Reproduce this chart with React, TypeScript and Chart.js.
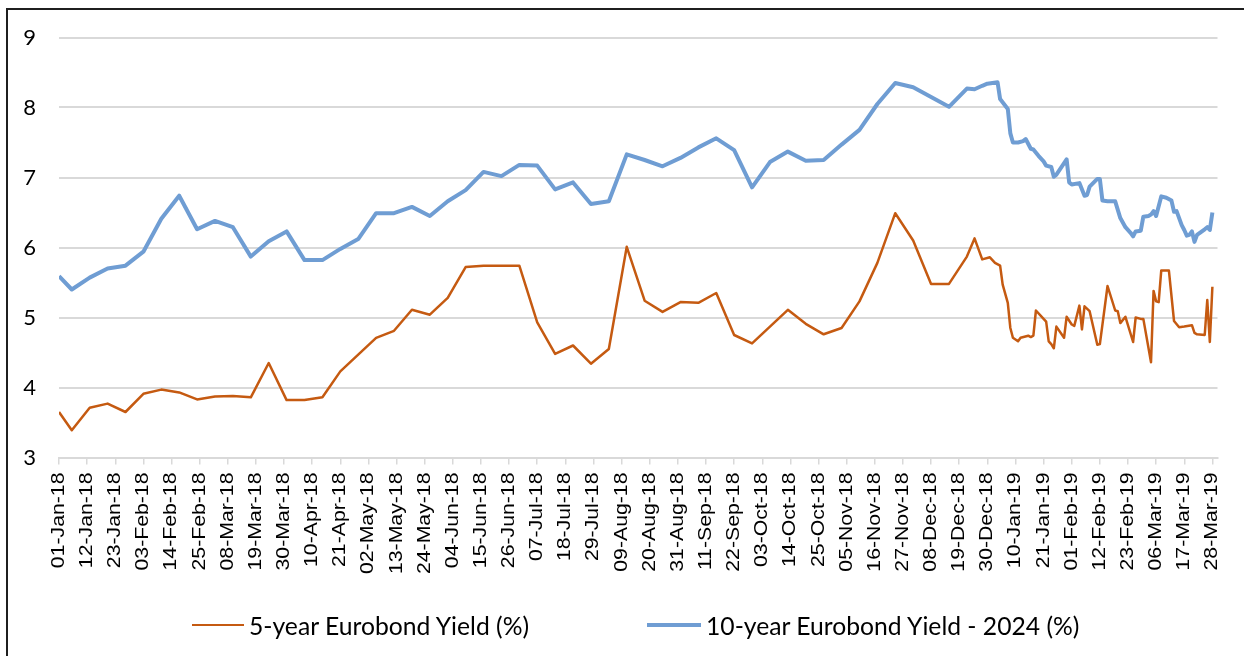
import React, { useEffect, useRef } from 'react';
import { Chart, registerables, LinearScale } from 'chart.js';

Chart.register(...registerables);

// ---- Data (x = days since 01-Jan-18) ----
const FIVE_LABEL = '5-year Eurobond Yield (%)';
const TEN_LABEL = '10-year Eurobond Yield - 2024 (%)';

const fiveYearDays = [
  0, 5, 12, 19, 26, 33, 40, 47, 54, 61, 68, 75, 82, 89, 96, 103, 110, 117, 124, 131,
  138, 145, 152, 159, 166, 173, 180, 187, 194, 201, 208, 215, 222, 229, 236, 243, 250, 257, 264, 271,
  278, 285, 292, 299, 306, 313, 320, 327, 334, 341, 348, 355, 358, 361, 364, 366, 368, 369, 371, 372,
  373, 375, 376, 379, 380, 381, 382, 385, 386, 387, 388, 389, 390, 393, 394, 396, 397, 399, 400, 401,
  403, 406, 407, 410, 413, 414, 415, 417, 420, 421, 423, 424, 427, 428, 429, 430, 431, 434, 436, 438,
  440, 443, 444, 445, 448, 449, 450, 451,
];
const fiveYearYield = [
  3.65, 3.39, 3.71, 3.77, 3.65, 3.91, 3.97, 3.93, 3.83, 3.87, 3.88, 3.86, 4.35, 3.82, 3.82, 3.86, 4.23, 4.47, 4.71, 4.81,
  5.11, 5.04, 5.28, 5.72, 5.74, 5.74, 5.74, 4.93, 4.48, 4.60, 4.34, 4.55, 6.01, 5.24, 5.08, 5.22, 5.21, 5.35, 4.75, 4.63,
  4.87, 5.11, 4.91, 4.76, 4.85, 5.23, 5.78, 6.49, 6.10, 5.48, 5.48, 5.87, 6.13, 5.83, 5.86, 5.78, 5.74, 5.47, 5.21, 4.85,
  4.71, 4.66, 4.71, 4.74, 4.72, 4.74, 5.10, 4.98, 4.94, 4.66, 4.62, 4.56, 4.87, 4.71, 5.01, 4.90, 4.88, 5.17, 4.83, 5.16,
  5.09, 4.61, 4.62, 5.45, 5.10, 5.09, 4.92, 5.01, 4.65, 5.00, 4.98, 4.98, 4.36, 5.38, 5.23, 5.22, 5.67, 5.67, 4.95, 4.86,
  4.87, 4.89, 4.78, 4.76, 4.75, 5.25, 4.65, 5.44,
];

const tenYearDays = [
  0, 5, 12, 19, 26, 33, 40, 47, 54, 61, 68, 75, 82, 89, 96, 103, 110, 117, 124, 131,
  138, 145, 152, 159, 166, 173, 180, 187, 194, 201, 208, 215, 222, 229, 236, 243, 250, 257, 264, 271,
  278, 285, 292, 299, 306, 313, 320, 327, 334, 341, 348, 355, 358, 361, 363, 367, 368, 371, 372, 373,
  375, 377, 378, 380, 381, 383, 385, 386, 388, 389, 390, 394, 395, 396, 399, 401, 402, 403, 406, 407,
  408, 410, 413, 415, 417, 419, 420, 421, 423, 424, 426, 427, 428, 429, 431, 433, 435, 436, 437, 439,
  440, 441, 442, 443, 444, 445, 448, 449, 450, 451,
];
const tenYearYield = [
  5.59, 5.40, 5.57, 5.70, 5.74, 5.94, 6.41, 6.74, 6.26, 6.38, 6.29, 5.87, 6.09, 6.23, 5.82, 5.82, 5.98, 6.12, 6.49, 6.49,
  6.58, 6.45, 6.66, 6.82, 7.08, 7.02, 7.18, 7.17, 6.83, 6.93, 6.62, 6.66, 7.33, 7.25, 7.16, 7.28, 7.43, 7.56, 7.39, 6.86,
  7.22, 7.37, 7.24, 7.25, 7.47, 7.68, 8.05, 8.35, 8.29, 8.15, 8.01, 8.27, 8.26, 8.31, 8.34, 8.36, 8.12, 7.98, 7.63, 7.50,
  7.50, 7.52, 7.55, 7.41, 7.40, 7.31, 7.23, 7.17, 7.15, 7.01, 7.04, 7.26, 6.93, 6.90, 6.92, 6.74, 6.75, 6.87, 6.98, 6.98,
  6.67, 6.66, 6.66, 6.42, 6.29, 6.21, 6.16, 6.23, 6.24, 6.44, 6.45, 6.47, 6.52, 6.45, 6.73, 6.71, 6.67, 6.51, 6.52, 6.32,
  6.25, 6.17, 6.18, 6.23, 6.08, 6.18, 6.26, 6.29, 6.25, 6.50,
];

const xTickLabels = [
  '01-Jan-18', '12-Jan-18', '23-Jan-18', '03-Feb-18', '14-Feb-18', '25-Feb-18', '08-Mar-18',
  '19-Mar-18', '30-Mar-18', '10-Apr-18', '21-Apr-18', '02-May-18', '13-May-18', '24-May-18',
  '04-Jun-18', '15-Jun-18', '26-Jun-18', '07-Jul-18', '18-Jul-18', '29-Jul-18', '09-Aug-18',
  '20-Aug-18', '31-Aug-18', '11-Sep-18', '22-Sep-18', '03-Oct-18', '14-Oct-18', '25-Oct-18',
  '05-Nov-18', '16-Nov-18', '27-Nov-18', '08-Dec-18', '19-Dec-18', '30-Dec-18', '10-Jan-19',
  '21-Jan-19', '01-Feb-19', '12-Feb-19', '23-Feb-19', '06-Mar-19', '17-Mar-19', '28-Mar-19',
];

const yTickValues = [3, 4, 5, 6, 7, 8, 9];

// ---- Styles ----
const ORANGE = '#c55a11';
const BLUE = '#6f9dd3';
const GRID = '#d9d9d9';
const X_LABEL_STRETCH = 1.18;

const MONTHS = ['Jan', 'Feb', 'Mar', 'Apr', 'May', 'Jun', 'Jul', 'Aug', 'Sep', 'Oct', 'Nov', 'Dec'];
const BASE = Date.UTC(2018, 0, 1);
function dayOfLabel(label: string): number {
  const [dd, mon, yy] = label.split('-');
  const t = Date.UTC(2000 + Number(yy), MONTHS.indexOf(mon), Number(dd));
  return Math.round((t - BASE) / 86400000);
}
const labelByDay = new Map<number, string>(xTickLabels.map((l) => [dayOfLabel(l), l]));

// Linear scale whose (rotated) tick labels are drawn elongated along their reading direction
class StretchedLabelScale extends (LinearScale as any) {
  static id = 'stretchedLinear';
  static defaults = (LinearScale as any).defaults;
  drawLabels(chartArea: any) {
    const items = (this as any).getLabelItems(chartArea);
    const y0 = items.length ? items[0].options.translation[1] : (this as any).top;
    const ctx = (this as any).ctx as CanvasRenderingContext2D;
    ctx.save();
    ctx.translate(0, y0);
    ctx.scale(1, X_LABEL_STRETCH);
    ctx.translate(0, -y0);
    super.drawLabels(chartArea);
    ctx.restore();
  }
}
Chart.register(StretchedLabelScale as any);

const legendItems = [
  { label: FIVE_LABEL, color: ORANGE, width: 2.5, lineLeft: 192, lineLen: 52, textLeft: 249 },
  { label: TEN_LABEL, color: BLUE, width: 4, lineLeft: 647, lineLen: 54, textLeft: 706 },
];

export default function App() {
  const canvasRef = useRef<HTMLCanvasElement | null>(null);

  useEffect(() => {
    if (!canvasRef.current) return;
    const chart = new Chart(canvasRef.current, {
      type: 'line',
      data: {
        datasets: [
          {
            label: FIVE_LABEL,
            data: fiveYearDays.map((d, i) => ({ x: d, y: fiveYearYield[i] })),
            borderColor: ORANGE,
            backgroundColor: ORANGE,
            borderWidth: 2.5,
            pointRadius: 0,
            tension: 0,
            borderJoinStyle: 'round',
          },
          {
            label: TEN_LABEL,
            data: tenYearDays.map((d, i) => ({ x: d, y: tenYearYield[i] })),
            borderColor: BLUE,
            backgroundColor: BLUE,
            borderWidth: 4,
            pointRadius: 0,
            tension: 0,
            borderJoinStyle: 'round',
          },
        ],
      },
      options: {
        responsive: false,
        animation: false,
        events: [],
        layout: { padding: { top: 37.5, left: 0, right: 26.5, bottom: 0 } },
        plugins: {
          legend: { display: false },
          tooltip: { enabled: false },
        },
        scales: {
          x: {
            type: 'stretchedLinear' as any,
            min: 0,
            max: 453,
            afterBuildTicks: (scale: any) => {
              scale.ticks = Array.from(labelByDay.keys()).map((v) => ({ value: v }));
            },
            afterFit: (scale: any) => {
              scale.height = 198.5;
              scale.paddingLeft = 0;
              scale.paddingRight = 0;
            },
            ticks: {
              autoSkip: false,
              minRotation: 90,
              maxRotation: 90,
              padding: 8,
              color: '#000',
              font: { family: "'Liberation Sans', Arial, sans-serif", size: 18 },
              callback: (value: any) => labelByDay.get(Number(value)) ?? '',
            },
            grid: {
              drawOnChartArea: false,
              drawTicks: true,
              tickLength: 7,
              color: GRID,
              lineWidth: 1.5,
            },
            border: { display: true, color: GRID, width: 2 },
          } as any,
          y: {
            type: 'linear',
            min: 3,
            max: 9,
            afterBuildTicks: (scale: any) => {
              scale.ticks = yTickValues.map((v) => ({ value: v }));
            },
            afterFit: (scale: any) => {
              scale.width = 59;
            },
            ticks: {
              padding: 23,
              color: '#000',
              font: { family: 'Lato, sans-serif', size: 22 },
            },
            grid: { color: GRID, lineWidth: 2, drawTicks: false },
            border: { display: false },
          },
        },
      },
    });
    return () => chart.destroy();
  }, []);

  return (
    <div
      style={{
        position: 'fixed',
        left: 0,
        top: 0,
        width: 1244,
        height: 656,
        overflow: 'hidden',
        background: '#fff',
      }}
    >
      <canvas ref={canvasRef} width={1244} height={656} style={{ display: 'block' }} />
      <div
        style={{
          position: 'absolute',
          left: 6,
          top: 8,
          width: 1300,
          height: 700,
          borderLeft: '2px solid #1f1f1f',
          borderTop: '2px solid #1f1f1f',
          pointerEvents: 'none',
        }}
      />
      {legendItems.map((it) => (
        <React.Fragment key={it.label}>
          <div
            style={{
              position: 'absolute',
              left: it.lineLeft,
              top: 625 - it.width / 2,
              width: it.lineLen,
              height: it.width,
              background: it.color,
            }}
          />
          <div
            style={{
              position: 'absolute',
              left: it.textLeft,
              top: 610,
              height: 30,
              display: 'flex',
              alignItems: 'center',
              whiteSpace: 'nowrap',
              fontFamily: 'Lato, sans-serif',
              fontSize: 24.7,
              color: '#000',
            }}
          >
            {it.label}
          </div>
        </React.Fragment>
      ))}
    </div>
  );
}
